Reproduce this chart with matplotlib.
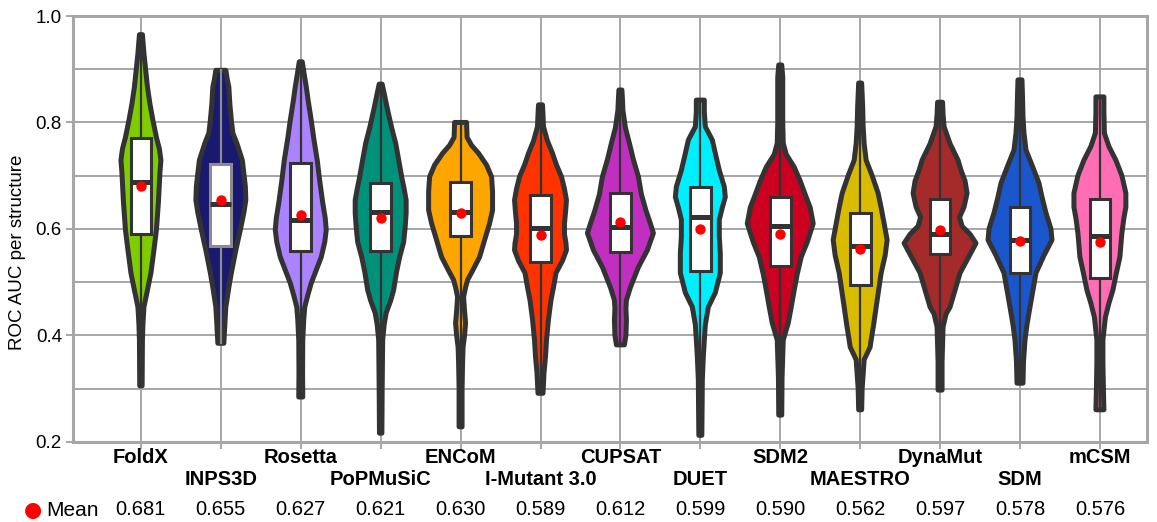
import matplotlib
matplotlib.use("Agg")
import matplotlib.pyplot as plt
from matplotlib.patches import Rectangle

plt.rcParams["font.family"] = ["Liberation Sans", "DejaVu Sans"]

TOOLS = ["FoldX", "INPS3D", "Rosetta", "PoPMuSiC", "ENCoM", "I-Mutant 3.0", "CUPSAT",
         "DUET", "SDM2", "MAESTRO", "DynaMut", "SDM", "mCSM"]
MEANS = [0.681, 0.655, 0.627, 0.621, 0.630, 0.589, 0.612, 0.599, 0.590, 0.562, 0.597, 0.578, 0.576]
Q1 = [0.590, 0.568, 0.559, 0.559, 0.586, 0.538, 0.556, 0.521, 0.530, 0.495, 0.553, 0.517, 0.508]
MEDIANS = [0.688, 0.646, 0.617, 0.631, 0.632, 0.601, 0.603, 0.622, 0.605, 0.568, 0.590, 0.579, 0.587]
Q3 = [0.771, 0.722, 0.724, 0.686, 0.688, 0.663, 0.667, 0.679, 0.660, 0.630, 0.656, 0.641, 0.656]
COLORS = ["#7fcc00", "#191970", "#ab82ff", "#00917a", "#ffa500", "#ff3300", "#c12fc1",
          "#00efff", "#cc0020", "#d9bc00", "#a52a2a", "#1a56cc", "#ff6eb4"]
BOX_EDGE = ["#333333", "#8c8c8c"] + ["#333333"] * 11

# density profiles (value level, relative density)
VIOLIN_LEVELS = [
    [0.305, 0.391, 0.42, 0.453, 0.48, 0.517, 0.56, 0.598, 0.65, 0.705, 0.729, 0.75, 0.772, 0.804, 0.835, 0.867, 0.93, 0.965],
    [0.385, 0.42, 0.453, 0.49, 0.517, 0.56, 0.598, 0.63, 0.654, 0.68, 0.705, 0.729, 0.761, 0.78, 0.804, 0.835, 0.867, 0.88, 0.898],
    [0.284, 0.33, 0.391, 0.43, 0.453, 0.475, 0.498, 0.52, 0.547, 0.575, 0.598, 0.62, 0.649, 0.69, 0.729, 0.77, 0.804, 0.84, 0.867, 0.89, 0.914],
    [0.216, 0.3, 0.391, 0.42, 0.442, 0.465, 0.485, 0.52, 0.547, 0.575, 0.603, 0.63, 0.654, 0.675, 0.698, 0.73, 0.761, 0.79, 0.823, 0.85, 0.872],
    [0.228, 0.3, 0.35, 0.378, 0.40, 0.423, 0.445, 0.472, 0.49, 0.504, 0.525, 0.547, 0.585, 0.61, 0.635, 0.67, 0.698, 0.72, 0.742, 0.757, 0.772, 0.80],
    [0.291, 0.329, 0.36, 0.391, 0.43, 0.466, 0.49, 0.517, 0.54, 0.56, 0.573, 0.59, 0.61, 0.63, 0.654, 0.675, 0.698, 0.72, 0.742, 0.765, 0.792, 0.815, 0.833],
    [0.382, 0.40, 0.429, 0.45, 0.466, 0.49, 0.528, 0.56, 0.592, 0.61, 0.635, 0.665, 0.698, 0.73, 0.761, 0.79, 0.823, 0.845, 0.861],
    [0.212, 0.27, 0.316, 0.36, 0.391, 0.42, 0.453, 0.48, 0.517, 0.554, 0.585, 0.617, 0.64, 0.66, 0.679, 0.71, 0.742, 0.767, 0.792, 0.82, 0.842],
    [0.25, 0.32, 0.391, 0.423, 0.453, 0.485, 0.515, 0.547, 0.575, 0.61, 0.64, 0.667, 0.69, 0.716, 0.74, 0.761, 0.8, 0.855, 0.885, 0.908],
    [0.26, 0.3, 0.354, 0.378, 0.391, 0.42, 0.453, 0.485, 0.517, 0.55, 0.579, 0.61, 0.64, 0.667, 0.70, 0.729, 0.76, 0.792, 0.83, 0.874],
    [0.297, 0.35, 0.416, 0.44, 0.453, 0.485, 0.517, 0.545, 0.573, 0.59, 0.605, 0.622, 0.641, 0.667, 0.69, 0.71, 0.729, 0.76, 0.792, 0.815, 0.838],
    [0.31, 0.35, 0.391, 0.42, 0.453, 0.485, 0.517, 0.55, 0.579, 0.60, 0.63, 0.66, 0.686, 0.72, 0.748, 0.78, 0.81, 0.85, 0.88],
    [0.26, 0.3, 0.35, 0.391, 0.434, 0.46, 0.485, 0.517, 0.547, 0.592, 0.62, 0.641, 0.667, 0.70, 0.729, 0.755, 0.78, 0.82, 0.848],
]
VIOLIN_DENSITY = [
    [1.2, 1.5, 2, 3, 6, 10, 13, 15.5, 17.5, 19, 20, 18.5, 15.5, 12, 9, 6.5, 3, 1.5],
    [3, 4, 5, 8, 10.5, 15, 19.5, 23, 25, 24.5, 23, 21.5, 16, 12, 10.5, 9, 8, 6.5, 5],
    [2, 1.8, 2, 3, 4, 7, 10.5, 15, 20.5, 24, 25.5, 24.5, 22, 19, 16.5, 13, 10.5, 7.5, 5.5, 3.5, 1.5],
    [1.2, 1.5, 2, 3.5, 5.5, 10, 13, 16, 19, 23, 24.5, 25.5, 25.5, 23.5, 21, 18, 15, 11, 7, 4, 1.5],
    [1.5, 1.5, 2, 2.5, 4, 5, 4, 3, 5, 7, 13, 19, 25, 29, 32, 32, 31, 26, 18, 11, 6.5, 6],
    [2.5, 3.5, 5, 6, 8, 10.5, 13, 15.5, 22, 26, 25.5, 24, 24, 25, 26, 24, 21, 16, 12, 7, 3, 2.5, 2],
    [4, 5.5, 6, 5.5, 6, 10, 18, 27, 33, 30, 25.5, 21, 18, 13, 9, 5, 2.5, 2, 1.5],
    [1.5, 1.8, 2, 3, 4, 5, 8, 15, 20, 20, 19, 19, 22, 25, 24, 19, 15, 12, 5, 4, 4],
    [1.5, 1.8, 3, 8, 11, 14, 17, 21, 27, 33, 30, 24.5, 20, 14, 6, 3, 2.5, 2.5, 2.5, 1.5],
    [1.5, 2, 4, 10, 11, 13.5, 16, 18.5, 21, 25, 27, 24, 21, 18, 12, 6, 4, 3, 2.5, 1.5],
    [2, 2, 3, 6, 10, 15, 20, 28, 36, 30, 22, 19.5, 24, 27, 25, 21, 18, 10, 4, 3, 2.5],
    [3, 3.5, 5, 7, 10, 13, 16, 24, 32, 31, 26, 22, 19, 12, 6, 4, 3, 2.5, 2],
    [4, 3.5, 3, 3, 5.5, 9, 13, 16.5, 20, 22, 24, 26, 26, 22, 16, 9, 4.5, 4, 4],
]

GRID = "#a6a6a6"
DARK = "#333333"
WIDTH_SCALE = 1 / 80.0
BOX_W = 0.26


def main():
    fig = plt.figure(figsize=(11.57, 5.22), dpi=100)
    ax = fig.add_axes([0.0631, 0.1538, 0.9283, 0.8155])
    ax.set_xlim(-0.85, 12.59)
    ax.set_ylim(0.2, 1.0)

    ax.set_yticks([0.2, 0.4, 0.6, 0.8, 1.0])
    ax.set_yticks([0.3, 0.5, 0.7, 0.9], minor=True)
    ax.set_yticklabels(["0.2", "0.4", "0.6", "0.8", "1.0"], fontsize=13.5)
    ax.set_xticks(range(len(TOOLS)))
    ax.set_xticklabels([])
    ax.tick_params(axis="y", which="major", length=5, width=1.4, color=GRID, pad=3)
    ax.tick_params(axis="y", which="minor", length=0)
    ax.tick_params(axis="x", length=5, width=1.4, color=GRID)
    ax.grid(True, which="both", color=GRID, linewidth=1.4, zorder=0)
    ax.set_axisbelow(True)
    for spine in ax.spines.values():
        spine.set_color(GRID)
        spine.set_linewidth(2.2)

    for i, tool in enumerate(TOOLS):
        levels = VIOLIN_LEVELS[i]
        widths = [d * WIDTH_SCALE for d in VIOLIN_DENSITY[i]]
        xs = [i + w for w in widths] + [i - w for w in reversed(widths)]
        ys = list(levels) + list(reversed(levels))
        ax.fill(xs, ys, facecolor=COLORS[i], edgecolor=DARK, linewidth=3.6,
                joinstyle="round", zorder=2)
        # whiskers to data extremes
        ax.plot([i, i], [levels[0], Q1[i]], color=BOX_EDGE[i], linewidth=1.6, zorder=3)
        ax.plot([i, i], [Q3[i], levels[-1]], color=BOX_EDGE[i], linewidth=1.6, zorder=3)
        ax.add_patch(Rectangle((i - BOX_W / 2, Q1[i]), BOX_W, Q3[i] - Q1[i],
                               facecolor="white", edgecolor=BOX_EDGE[i], linewidth=2.2, zorder=4))
        ax.plot([i - BOX_W / 2, i + BOX_W / 2], [MEDIANS[i], MEDIANS[i]], color=DARK,
                linewidth=3.6, solid_capstyle="butt", zorder=5)
        ax.plot(i, MEANS[i], "o", color="#ff0000", markersize=7.5, markeredgewidth=0, zorder=6)

        row_y = -0.038 if i % 2 == 0 else -0.088
        ax.text(i, row_y, tool, transform=ax.get_xaxis_transform(), ha="center", va="center",
                fontsize=14.5, fontweight="bold")
        ax.text(i, -0.160, f"{MEANS[i]:.3f}", transform=ax.get_xaxis_transform(),
                ha="center", va="center", fontsize=14.5)

    fig.text(33 / 1157, 1 - 510 / 522, "\u25cf", color="#ff0000", fontsize=15,
             ha="center", va="center", family="DejaVu Sans")
    fig.text(46 / 1157, 1 - 510 / 522, "Mean", fontsize=15, ha="left", va="center")
    fig.text(18 / 1157, 1 - 252 / 522, "ROC AUC per structure", rotation=90,
             fontsize=13.5, ha="center", va="center")

    fig.savefig("out.png", dpi=100)
    plt.close(fig)


if __name__ == "__main__":
    main()
